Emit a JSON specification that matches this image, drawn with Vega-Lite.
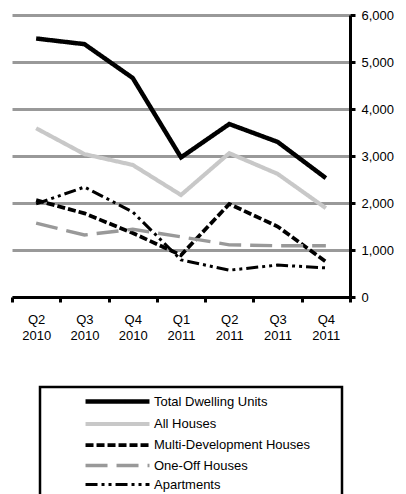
{
  "$schema": "https://vega.github.io/schema/vega-lite/v6.json",
  "autosize": {"type": "none"},
  "padding": {"left": 12, "top": 15, "right": 56, "bottom": 197},
  "width": 338,
  "height": 282,
  "background": "white",
  "config": {
    "view": {"stroke": null},
    "font": "Liberation Sans",
    "legend": {"strokeWidth": 2.5}
  },
  "data": {
    "values": [
      {"quarter": "Q2 2010", "series": "Total Dwelling Units", "value": 5500},
      {"quarter": "Q3 2010", "series": "Total Dwelling Units", "value": 5380},
      {"quarter": "Q4 2010", "series": "Total Dwelling Units", "value": 4660},
      {"quarter": "Q1 2011", "series": "Total Dwelling Units", "value": 2970},
      {"quarter": "Q2 2011", "series": "Total Dwelling Units", "value": 3680},
      {"quarter": "Q3 2011", "series": "Total Dwelling Units", "value": 3300},
      {"quarter": "Q4 2011", "series": "Total Dwelling Units", "value": 2530},
      {"quarter": "Q2 2010", "series": "All Houses", "value": 3590},
      {"quarter": "Q3 2010", "series": "All Houses", "value": 3040},
      {"quarter": "Q4 2010", "series": "All Houses", "value": 2810},
      {"quarter": "Q1 2011", "series": "All Houses", "value": 2170},
      {"quarter": "Q2 2011", "series": "All Houses", "value": 3060},
      {"quarter": "Q3 2011", "series": "All Houses", "value": 2620},
      {"quarter": "Q4 2011", "series": "All Houses", "value": 1890},
      {"quarter": "Q2 2010", "series": "Multi-Development Houses", "value": 2060},
      {"quarter": "Q3 2010", "series": "Multi-Development Houses", "value": 1780},
      {"quarter": "Q4 2010", "series": "Multi-Development Houses", "value": 1360},
      {"quarter": "Q1 2011", "series": "Multi-Development Houses", "value": 890},
      {"quarter": "Q2 2011", "series": "Multi-Development Houses", "value": 1980},
      {"quarter": "Q3 2011", "series": "Multi-Development Houses", "value": 1500},
      {"quarter": "Q4 2011", "series": "Multi-Development Houses", "value": 750},
      {"quarter": "Q2 2010", "series": "One-Off Houses", "value": 1570},
      {"quarter": "Q3 2010", "series": "One-Off Houses", "value": 1320},
      {"quarter": "Q4 2010", "series": "One-Off Houses", "value": 1440},
      {"quarter": "Q1 2011", "series": "One-Off Houses", "value": 1280},
      {"quarter": "Q2 2011", "series": "One-Off Houses", "value": 1110},
      {"quarter": "Q3 2011", "series": "One-Off Houses", "value": 1090},
      {"quarter": "Q4 2011", "series": "One-Off Houses", "value": 1090},
      {"quarter": "Q2 2010", "series": "Apartments", "value": 1980},
      {"quarter": "Q3 2010", "series": "Apartments", "value": 2340},
      {"quarter": "Q4 2010", "series": "Apartments", "value": 1810},
      {"quarter": "Q1 2011", "series": "Apartments", "value": 790},
      {"quarter": "Q2 2011", "series": "Apartments", "value": 570},
      {"quarter": "Q3 2011", "series": "Apartments", "value": 680},
      {"quarter": "Q4 2011", "series": "Apartments", "value": 620}
    ]
  },
  "mark": {"type": "line", "strokeJoin": "miter", "strokeCap": "butt"},
  "encoding": {
    "x": {
      "field": "quarter",
      "type": "ordinal",
      "sort": ["Q2 2010", "Q3 2010", "Q4 2010", "Q1 2011", "Q2 2011", "Q3 2011", "Q4 2011"],
      "bandPosition": 0.5,
      "scale": {"type": "band", "paddingInner": 0, "paddingOuter": 0},
      "axis": {
        "title": null,
        "orient": "bottom",
        "domainColor": "black",
        "domainWidth": 3,
        "tickColor": "black",
        "tickWidth": 3,
        "tickSize": 5,
        "tickBand": "extent",
        "labelAngle": 0,
        "labelFontSize": 13,
        "labelColor": "black",
        "labelPadding": 11,
        "labelBaseline": "top",
        "labelLineHeight": 16,
        "labelExpr": "split(datum.label, ' ')"
      }
    },
    "y": {
      "field": "value",
      "type": "quantitative",
      "scale": {"domain": [0, 6000], "nice": false},
      "axis": {
        "title": null,
        "orient": "right",
        "values": [0, 1000, 2000, 3000, 4000, 5000, 6000],
        "format": ",.0f",
        "domainColor": "black",
        "domainWidth": 3,
        "tickColor": "black",
        "tickWidth": 3,
        "tickSize": 5,
        "labelPadding": 6,
        "labelFontSize": 13,
        "labelColor": "black",
        "grid": true,
        "gridColor": "#999999",
        "gridWidth": 3
      }
    },
    "color": {
      "field": "series",
      "type": "nominal",
      "scale": {
        "domain": ["Total Dwelling Units", "All Houses", "Multi-Development Houses", "One-Off Houses", "Apartments"],
        "range": ["#000000", "#c8c8c8", "#000000", "#999999", "#000000"]
      },
      "legend": {
        "title": " ",
        "titleOrient": "right",
        "titlePadding": 26,
        "titleFontSize": 4,
        "orient": "none",
        "legendX": 28,
        "legendY": 372,
        "strokeColor": "black",
        "padding": 6,
        "symbolType": "M-5.33,0H5.33",
        "symbolSize": 144,
        "symbolOffset": 63,
        "labelOffset": 28,
        "labelFontSize": 13,
        "labelColor": "black",
        "labelLimit": 300,
        "rowPadding": 4.5
      }
    },
    "strokeDash": {
      "field": "series",
      "type": "nominal",
      "scale": {
        "domain": ["Total Dwelling Units", "All Houses", "Multi-Development Houses", "One-Off Houses", "Apartments"],
        "range": [[1, 0], [1, 0], [8, 3], [22, 9], [12, 4, 3, 4, 3, 4]]
      }
    },
    "strokeWidth": {
      "field": "series",
      "type": "nominal",
      "scale": {
        "domain": ["Total Dwelling Units", "All Houses", "Multi-Development Houses", "One-Off Houses", "Apartments"],
        "range": [4.5, 3, 4, 5, 3.5]
      }
    }
  }
}
